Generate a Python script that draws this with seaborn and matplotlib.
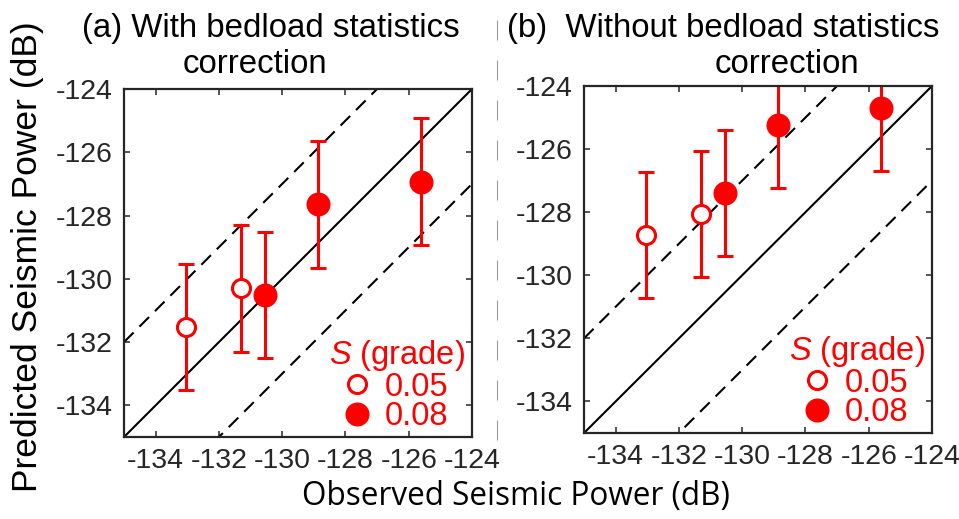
import matplotlib
matplotlib.use("Agg")
import matplotlib.pyplot as plt
from matplotlib.lines import Line2D
import seaborn as sns
import pandas as pd
import numpy as np

# ---- data ----
observed = [-133.05, -131.30, -130.53, -128.86, -125.62]
pred_with = [-131.53, -130.30, -130.51, -127.65, -126.93]
pred_without = [-128.73, -128.06, -127.39, -125.23, -124.69]
pred_err = [2.0, 2.0, 2.0, 2.0, 2.0]
grade = [0.05, 0.05, 0.08, 0.08, 0.08]
grade_levels = [0.05, 0.08]
line_offsets = [0, 3, -3]
ticks = [-134, -132, -130, -128, -126, -124]
lims = [-135, -124]
titles = [("(a) With bedload statistics", "correction"),
          ("(b)  Without bedload statistics", "correction")]

sns.set_style("ticks")
plt.rcParams['font.family'] = ['Liberation Sans', 'DejaVu Sans']
plt.rcParams['axes.unicode_minus'] = False
plt.rcParams['mathtext.fontset'] = 'custom'
plt.rcParams['mathtext.it'] = 'Liberation Sans:italic'
plt.rcParams['mathtext.rm'] = 'Liberation Sans'

W, H = 959, 519
fig = plt.figure(figsize=(W / 100, H / 100), dpi=100)
ax_a = fig.add_axes([124 / W, 1 - 437 / H, 348 / W, 348 / H])
ax_b = fig.add_axes([584 / W, 1 - 433 / H, 348 / W, 347 / H])

RED = '#ff0000'
AXC = '#262626'

for ax, preds in [(ax_a, pred_with), (ax_b, pred_without)]:
    df = pd.DataFrame({'obs': observed, 'pred': preds, 'err': pred_err, 'grade': grade})
    xs = np.array(lims, dtype=float)
    for off in line_offsets:
        ax.plot(xs, xs + off, color='black', lw=1.5,
                ls='-' if off == 0 else (0, (6.5, 4)), zorder=1)
    ax.errorbar(df['obs'], df['pred'], yerr=df['err'], fmt='none', ecolor=RED,
                elinewidth=2.2, capsize=6.1, capthick=2.2, zorder=2)
    d_open = df[df['grade'] == grade_levels[0]]
    d_fill = df[df['grade'] == grade_levels[1]]
    sns.scatterplot(data=d_open, x='obs', y='pred', ax=ax, s=169, color='white',
                    edgecolor=RED, linewidth=2.2, zorder=3, legend=False)
    sns.scatterplot(data=d_fill, x='obs', y='pred', ax=ax, s=299, color=RED,
                    edgecolor=RED, linewidth=0, zorder=3, legend=False)
    ax.set_xlim(lims)
    ax.set_ylim(lims)
    ax.set_xticks(ticks)
    ax.set_yticks(ticks)
    ax.set_xlabel('')
    ax.set_ylabel('')
    ax.tick_params(direction='in', length=4.3, width=1.1, top=True, right=True,
                   labelsize=20.5, colors=AXC, pad=8)
    for sp in ax.spines.values():
        sp.set_linewidth(1.6)
        sp.set_color(AXC)
    handles = [Line2D([], [], ls='none', marker='o', markersize=13, markerfacecolor='white',
                      markeredgecolor=RED, markeredgewidth=2.2),
               Line2D([], [], ls='none', marker='o', markersize=17.3, markerfacecolor=RED,
                      markeredgecolor=RED, markeredgewidth=0)]
    leg = ax.legend(handles, [f"{g:.2f}" for g in grade_levels], title='$S$ (grade)',
                    loc='lower right', bbox_to_anchor=(1.0, -0.005), frameon=False,
                    fontsize=23.5, title_fontsize=23.5, labelcolor=RED,
                    handlelength=0.7, handletextpad=0.5, labelspacing=-0.05,
                    borderpad=0.0, borderaxespad=0.2)
    leg.get_title().set_color(RED)

# titles
starts = [82, 507]
centers2 = [255, 787]
for (l1, l2), xs0, xc in zip(titles, starts, centers2):
    fig.text(xs0 / W, 1 - 37 / H, l1, ha='left', va='baseline', fontsize=23.8,
             color='black')
    fig.text(xc / W, 1 - 73 / H, l2, ha='center', va='baseline', fontsize=23.8,
             color='black')

fig.text(28 / W, 1 - 257 / H, 'Predicted Seismic Power (dB)', rotation=90,
         ha='center', va='center', fontsize=25.5, color='black')
fig.text(516 / W, 1 - 497 / H, 'Observed Seismic Power (dB)', ha='center', va='center',
         fontsize=22.7, family=['Open Sans', 'DejaVu Sans'], color='black')

# separator
fig.add_artist(Line2D([497 / W, 497 / W], [1 - 20 / H, 1 - 445 / H], color='#9a9a9a',
                      lw=0.8, ls=(0, (18, 18))))

fig.savefig('out.png', dpi=100)
